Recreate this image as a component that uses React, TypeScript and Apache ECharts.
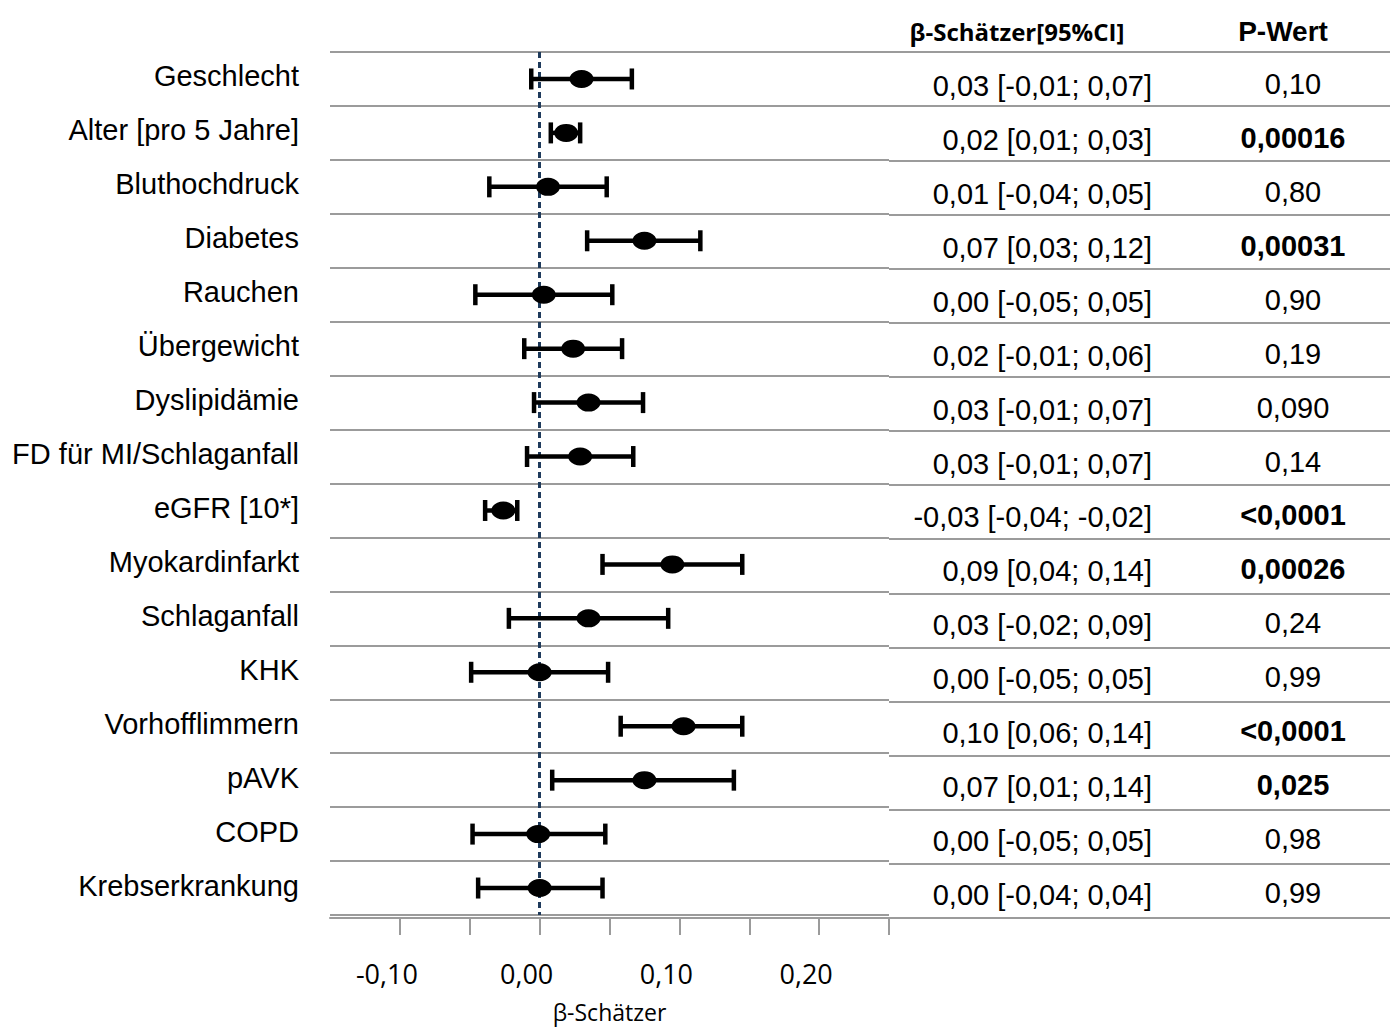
import React, { useEffect, useRef } from "react";
import * as echarts from "echarts";

const categories = [
  "Geschlecht",
  "Alter [pro 5 Jahre]",
  "Bluthochdruck",
  "Diabetes",
  "Rauchen",
  "Übergewicht",
  "Dyslipidämie",
  "FD für MI/Schlaganfall",
  "eGFR [10*]",
  "Myokardinfarkt",
  "Schlaganfall",
  "KHK",
  "Vorhofflimmern",
  "pAVK",
  "COPD",
  "Krebserkrankung",
];
const estimate = [0.03, 0.019, 0.006, 0.075, 0.003, 0.024, 0.035, 0.029, -0.026, 0.095, 0.035, 0.0, 0.103, 0.075, -0.001, 0.0];
const lower = [-0.006, 0.008, -0.036, 0.034, -0.046, -0.011, -0.004, -0.009, -0.039, 0.045, -0.022, -0.049, 0.058, 0.009, -0.048, -0.044];
const upper = [0.066, 0.029, 0.048, 0.115, 0.052, 0.059, 0.074, 0.067, -0.016, 0.145, 0.092, 0.049, 0.145, 0.139, 0.047, 0.045];
const ciText = [
  "0,03 [-0,01; 0,07]",
  "0,02 [0,01; 0,03]",
  "0,01 [-0,04; 0,05]",
  "0,07 [0,03; 0,12]",
  "0,00 [-0,05; 0,05]",
  "0,02 [-0,01; 0,06]",
  "0,03 [-0,01; 0,07]",
  "0,03 [-0,01; 0,07]",
  "-0,03 [-0,04; -0,02]",
  "0,09 [0,04; 0,14]",
  "0,03 [-0,02; 0,09]",
  "0,00 [-0,05; 0,05]",
  "0,10 [0,06; 0,14]",
  "0,07 [0,01; 0,14]",
  "0,00 [-0,05; 0,05]",
  "0,00 [-0,04; 0,04]",
];
const pValues = ["0,10", "0,00016", "0,80", "0,00031", "0,90", "0,19", "0,090", "0,14", "<0,0001", "0,00026", "0,24", "0,99", "<0,0001", "0,025", "0,98", "0,99"];
const significant = [false, true, false, true, false, false, false, false, true, true, false, false, true, true, false, false];
const tickValues = [-0.1, -0.05, 0, 0.05, 0.1, 0.15, 0.2, 0.25];
const labelValues = [-0.1, 0, 0.1, 0.2];
const headerCI = "β-Schätzer[95%CI]";
const headerP = "P-Wert";
const axisTitle = "β-Schätzer";

const ARIAL = "'Liberation Sans', Arial, sans-serif";
const CALIBRI = "'Open Sans', Lato, sans-serif";
const GREY = "#9b9b9b";

export default function App() {
  const ref = useRef<HTMLDivElement>(null);

  useEffect(() => {
    if (!ref.current) return;
    const chart = echarts.init(ref.current, null, { renderer: "svg" });

    const top = 52;
    const height = 866;

    const option: any = {
      animation: false,
      backgroundColor: "#ffffff",
      grid: [
        { left: 330, width: 559, top, height },
        { left: 889, width: 501, top, height },
      ],
      graphic: [
        {
          type: "text",
          x: 1017,
          y: 31,
          style: {
            text: headerCI,
            font: `bold 24px ${CALIBRI}`,
            fill: "#000",
            textAlign: "center",
            textVerticalAlign: "middle",
            align: "center",
            verticalAlign: "middle",
          },
        },
        {
          type: "text",
          x: 1283,
          y: 31,
          style: {
            text: headerP,
            font: `bold 28px ${ARIAL}`,
            fill: "#000",
            textAlign: "center",
            textVerticalAlign: "middle",
            align: "center",
            verticalAlign: "middle",
          },
        },
      ],
      xAxis: [
        {
          gridIndex: 0,
          type: "value",
          min: -0.15,
          max: 0.25,
          interval: 0.05,
          offset: 3,
          axisLine: { show: true, lineStyle: { color: GREY, width: 2 } },
          axisTick: {
            show: true,
            customValues: tickValues,
            length: 17,
            lineStyle: { color: GREY, width: 2 },
          },
          axisLabel: {
            customValues: labelValues,
            formatter: (v: number) => `{a|${v.toFixed(2).replace(".", ",")}}`,
            fontSize: 27,
            fontFamily: CALIBRI,
            color: "#000",
            margin: 42,
            rich: {
              a: { fontSize: 27, fontFamily: CALIBRI, color: "#000", padding: [0, 26, 0, 0] },
            },
          },
          splitLine: { show: false },
          name: axisTitle,
          nameLocation: "middle",
          nameGap: 82,
          nameTextStyle: { fontFamily: CALIBRI, fontSize: 23, color: "#000" },
        },
        {
          gridIndex: 1,
          type: "value",
          min: 0,
          max: 1,
          show: false,
        },
      ],
      yAxis: [
        {
          gridIndex: 0,
          type: "category",
          inverse: true,
          data: categories,
          axisLine: { show: false },
          axisTick: { show: false },
          axisLabel: {
            interval: 0,
            fontSize: 29,
            fontFamily: ARIAL,
            color: "#000",
            margin: 31,
            formatter: (v: string) => `{a|${v}}`,
            rich: {
              a: { fontSize: 29, fontFamily: ARIAL, color: "#000", padding: [0, 0, 5, 0] },
            },
          },
          splitLine: { show: true, lineStyle: { color: GREY, width: 2 } },
        },
        {
          gridIndex: 0,
          type: "category",
          inverse: true,
          position: "right",
          data: ciText,
          axisLine: { show: false },
          axisTick: { show: false },
          splitLine: { show: false },
          axisLabel: {
            interval: 0,
            align: "right",
            margin: 263,
            fontSize: 29,
            fontFamily: ARIAL,
            color: "#000",
            formatter: (v: string) => `{a|${v}}`,
            rich: {
              a: { fontSize: 29, fontFamily: ARIAL, color: "#000", padding: [14, 0, 0, 0] },
            },
          },
        },
        {
          gridIndex: 0,
          type: "category",
          inverse: true,
          position: "right",
          data: pValues,
          axisLine: { show: false },
          axisTick: { show: false },
          splitLine: { show: false },
          axisLabel: {
            interval: 0,
            align: "center",
            margin: 404,
            fontSize: 29,
            fontFamily: ARIAL,
            color: "#000",
            formatter: (v: string, i: number) => (significant[i] ? `{b|${v}}` : `{n|${v}}`),
            rich: {
              b: { fontWeight: "bold", fontSize: 29, fontFamily: ARIAL, color: "#000", padding: [10, 0, 0, 0] },
              n: { fontSize: 29, fontFamily: ARIAL, color: "#000", padding: [10, 0, 0, 0] },
            },
          },
        },
        {
          gridIndex: 1,
          type: "category",
          inverse: true,
          data: categories,
          axisLine: { show: false },
          axisTick: { show: false },
          axisLabel: { show: false },
          splitLine: { show: true, lineStyle: { color: GREY, width: 2 } },
        },
      ],
      series: [
        {
          type: "custom",
          xAxisIndex: 0,
          yAxisIndex: 0,
          data: categories.map((_, i) => [lower[i], upper[i], i]),
          encode: { x: [0, 1], y: 2 },
          renderItem: (params: any, api: any) => {
            const lo = api.coord([api.value(0), api.value(2)]);
            const hi = api.coord([api.value(1), api.value(2)]);
            const h = 10.5;
            const st = { stroke: "#000", lineWidth: 4.5 };
            return {
              type: "group",
              children: [
                { type: "line", shape: { x1: lo[0], y1: lo[1], x2: hi[0], y2: hi[1] }, style: st },
                { type: "line", shape: { x1: lo[0], y1: lo[1] - h, x2: lo[0], y2: lo[1] + h }, style: st },
                { type: "line", shape: { x1: hi[0], y1: hi[1] - h, x2: hi[0], y2: hi[1] + h }, style: st },
              ],
            };
          },
          z: 3,
        },
        {
          type: "scatter",
          xAxisIndex: 0,
          yAxisIndex: 0,
          data: categories.map((_, i) => [estimate[i], i]),
          symbol: "circle",
          symbolSize: [24, 18],
          itemStyle: { color: "#000", opacity: 1 },
          z: 4,
          markLine: {
            silent: true,
            symbol: ["none", "none"],
            label: { show: false },
            lineStyle: { color: "#1f3b5c", type: [6, 4], width: 3, opacity: 1 },
            data: [{ xAxis: 0 }],
            z: 2,
          },
        },
      ],
    };

    chart.setOption(option);
    return () => chart.dispose();
  }, []);

  return (
    <div
      ref={ref}
      style={{ position: "fixed", left: 0, top: 0, width: 1395, height: 1028, background: "#fff" }}
    />
  );
}
